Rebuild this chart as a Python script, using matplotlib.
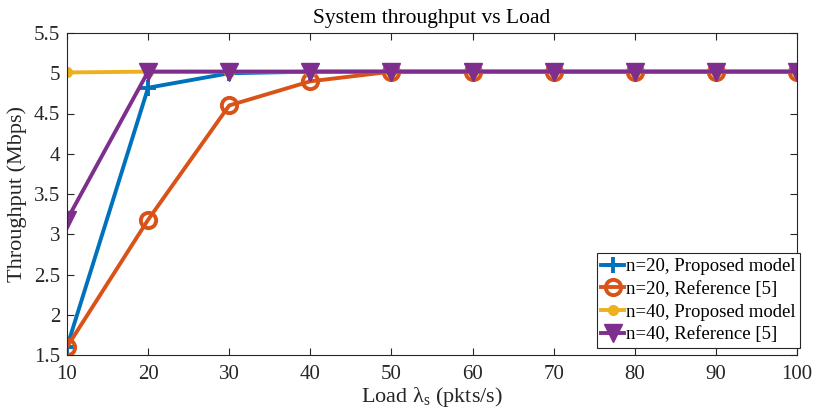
import numpy as np
import matplotlib.pyplot as plt

plt.rcParams['font.family'] = ['Liberation Serif', 'DejaVu Serif']
plt.rcParams['mathtext.fontset'] = 'custom'
plt.rcParams['mathtext.rm'] = 'Liberation Serif'
plt.rcParams['mathtext.it'] = 'Liberation Serif'

load = [10, 20, 30, 40, 50, 60, 70, 80, 90, 100]
n20_proposed = [1.6, 4.82, 5.0, 5.02, 5.02, 5.02, 5.02, 5.02, 5.02, 5.02]
n20_reference = [1.6, 3.18, 4.6, 4.9, 5.02, 5.02, 5.02, 5.02, 5.02, 5.02]
n40_proposed = [5.01, 5.02, 5.02, 5.02, 5.02, 5.02, 5.02, 5.02, 5.02, 5.02]
n40_reference = [3.18, 5.02, 5.02, 5.02, 5.02, 5.02, 5.02, 5.02, 5.02, 5.02]

fig = plt.figure(figsize=(8.16, 4.17), dpi=100)
ax = fig.add_axes([67 / 816, 1 - 355 / 417, 730 / 816, 322 / 417])

ax.plot(load, n20_proposed, color="#0072BD", linewidth=2.8, marker="+",
        markersize=11, markeredgewidth=2.8, label="n=20, Proposed model")
ax.plot(load, n20_reference, color="#D95319", linewidth=2.8, marker="o",
        markersize=11, markeredgewidth=2.8, markerfacecolor="none",
        label="n=20, Reference [5]")
ax.plot(load, n40_proposed, color="#EDB120", linewidth=2.8, marker="o",
        markersize=7, label="n=40, Proposed model")
ax.plot(load, n40_reference, color="#7E2F8E", linewidth=2.8, marker="v",
        markersize=13, label="n=40, Reference [5]")

ax.set_xlim(10, 100)
ax.set_ylim(1.5, 5.5)
ax.set_xticks(np.arange(10, 101, 10))
ax.set_yticks(np.arange(1.5, 5.51, 0.5))
ax.set_yticklabels(["1.5", "2", "2.5", "3", "3.5", "4", "4.5", "5", "5.5"])
ax.tick_params(direction="in", labelsize=15, colors="#262626", top=True, right=True,
               length=5)
ax.tick_params(axis="x", pad=7)
ax.tick_params(axis="y", pad=5)
for s in ax.spines.values():
    s.set_color("#262626")
    s.set_linewidth(0.8)

ax.set_xlabel(r"Load $\lambda_{\rm s}$ (pkts/s)", fontsize=16, color="#262626", labelpad=1)
ax.set_ylabel("Throughput (Mbps)", fontsize=16, color="#262626", labelpad=5)
ax.set_title("System throughput vs Load", fontsize=15.5, color="black", pad=7)

leg = ax.legend(loc="lower right", bbox_to_anchor=(800 / 816, 69 / 417),
                bbox_transform=fig.transFigure, fontsize=13.5, frameon=True,
                fancybox=False, edgecolor="#262626", framealpha=1,
                handlelength=1.2, handletextpad=0.1, borderpad=0.25,
                labelspacing=0.3, borderaxespad=0)
leg.get_frame().set_linewidth(0.8)

fig.savefig("out.png", dpi=100)
